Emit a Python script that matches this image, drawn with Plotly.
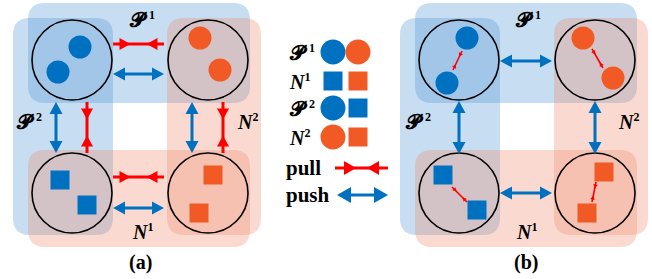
import math
import plotly.graph_objects as go

W, H = 652, 279
BLUE = "#0070C0"
ORANGE = "#F15A24"
RED = "#FF0000"
BAND_BLUE = "rgba(91,155,213,0.34)"
BAND_RED = "rgba(238,140,110,0.32)"
FONT = "Liberation Serif"

# ---------------- data ----------------
panel_names = ["(a)", "(b)"]
panel_dx = [0, 387]
node_cx = [72, 208]            # left / right column centres (panel a)
node_cy = [60, 193]            # top / bottom row centres
node_r = 40

# members (x, y) for each cell: TL, TR, BL, BR
dots_a = {
    "TL": [(80, 47), (58, 72)],
    "TR": [(200, 38), (220, 70)],
    "BL": [(60, 180), (87, 205)],
    "BR": [(213, 175), (199, 213)],
}
dots_b = {
    "TL": [(467, 38), (447, 83)],
    "TR": [(583, 38), (613, 78)],
    "BL": [(443, 175), (477, 210)],
    "BR": [(604, 172), (587, 213)],
}
cell_style = {"TL": ("circle", BLUE), "TR": ("circle", ORANGE),
              "BL": ("square", BLUE), "BR": ("square", ORANGE)}

# intra-cell pull segments in panel (b)
small_pull_b = [((453, 70), (462, 51)), ((592, 49), (603, 68)),
                ((452, 187), (467, 202)), ((596, 182), (592, 202))]

SUP = "<span style='font-size:12px'>{}</span>"
P_SYM = "𝓟\u00a0"
legend_rows = [P_SYM + "<sup>" + SUP.format(1) + "</sup>",
               "<i>N</i><sup>" + SUP.format(1) + "</sup>",
               P_SYM + "<sup>" + SUP.format(2) + "</sup>",
               "<i>N</i><sup>" + SUP.format(2) + "</sup>"]
legend_marks = [[("circle", BLUE), ("circle", ORANGE)],
                [("square", BLUE), ("square", ORANGE)],
                [("circle", BLUE), ("square", BLUE)],
                [("circle", ORANGE), ("square", ORANGE)]]
legend_y = [52, 81, 108, 137]
legend_arrows = ["pull", "push"]
legend_arrow_y = [168, 195]

group_labels = [legend_rows[0], legend_rows[2], legend_rows[3], legend_rows[1]]
group_label_pos_a = [(142, 19), (29, 121), (247, 121), (142, 231)]
group_label_pos_b = [(528, 19), (418, 121), (628, 121), (526, 231)]

fig = go.Figure()
shapes = []
annos = []


def rrect(x0, y0, x1, y1, r, fill):
    p = (f"M{x0+r},{y0} L{x1-r},{y0} Q{x1},{y0} {x1},{y0+r} L{x1},{y1-r} "
         f"Q{x1},{y1} {x1-r},{y1} L{x0+r},{y1} Q{x0},{y1} {x0},{y1-r} "
         f"L{x0},{y0+r} Q{x0},{y0} {x0+r},{y0} Z")
    return dict(type="path", path=p, xref="x", yref="y", fillcolor=fill,
                line=dict(width=0), layer="below")


def seg(a, b, color, width):
    shapes.append(dict(type="line", xref="x", yref="y", x0=a[0], y0=a[1], x1=b[0], y1=b[1],
                       line=dict(color=color, width=width)))


def head(tip, u, length, width, color):
    # filled triangle with its tip at `tip`, pointing along unit vector u
    bx, by = tip[0] - u[0] * length, tip[1] - u[1] * length
    px, py = -u[1] * width / 2, u[0] * width / 2
    p = f"M{tip[0]},{tip[1]} L{bx+px},{by+py} L{bx-px},{by-py} Z"
    shapes.append(dict(type="path", path=p, xref="x", yref="y", fillcolor=color,
                       line=dict(width=0)))


def unit(a, b):
    dx, dy = b[0] - a[0], b[1] - a[1]
    L = math.hypot(dx, dy)
    return dx / L, dy / L


def push(a, b, length=12, width=13, lw=3):
    ux, uy = unit(a, b)
    seg((a[0] + ux * length * 0.8, a[1] + uy * length * 0.8),
        (b[0] - ux * length * 0.8, b[1] - uy * length * 0.8), BLUE, lw)
    head(a, (-ux, -uy), length, width, BLUE)
    head(b, (ux, uy), length, width, BLUE)


def pull(a, b, length=11, width=12, off=6.5, lw=3):
    ux, uy = unit(a, b)
    seg(a, b, RED, lw)
    d = off + length
    head((a[0] + ux * d, a[1] + uy * d), (ux, uy), length, width, RED)
    head((b[0] - ux * d, b[1] - uy * d), (-ux, -uy), length, width, RED)


for pi, dxp in enumerate(panel_dx):
    # translucent group bands
    shapes.append(rrect(28 + dxp, 3, 250 + dxp, 103, 17, BAND_BLUE))    # P1
    shapes.append(rrect(13 + dxp, 18, 113 + dxp, 235, 17, BAND_BLUE))   # P2
    shapes.append(rrect(28 + dxp, 150, 250 + dxp, 247, 17, BAND_RED))   # N1
    shapes.append(rrect(167 + dxp, 18, 261 + dxp, 235, 17, BAND_RED))   # N2
    for cy in node_cy:
        for cx in node_cx:
            shapes.append(dict(type="circle", xref="x", yref="y",
                               x0=cx + dxp - node_r, x1=cx + dxp + node_r,
                               y0=cy - node_r, y1=cy + node_r,
                               line=dict(color="black", width=1.6)))
    if pi == 0:
        pull((113, 44), (164, 44))
        push((113, 74), (164, 74))
        pull((113, 177), (164, 177))
        push((113, 208), (164, 208))
        push((56, 102), (56, 153))
        pull((87, 102), (87, 153))
        push((192, 102), (192, 153))
        pull((223, 102), (223, 153))
    else:
        push((500, 61), (552, 61))
        push((500, 193), (552, 193))
        push((459, 101), (459, 154))
        push((595, 101), (595, 154))
        for a, b in small_pull_b:
            pull(a, b, length=4, width=4.5, off=2.5, lw=1.6)
    annos.append(dict(x=140 + dxp if pi == 0 else 526, y=262, text=f"<b>{panel_names[pi]}</b>",
                      showarrow=False, font=dict(family=FONT, size=20, color="black")))

# member dots
for dots in (dots_a, dots_b):
    for cell, pts in dots.items():
        sym, col = cell_style[cell]
        fig.add_trace(go.Scatter(x=[p[0] for p in pts], y=[p[1] for p in pts], mode="markers",
                                 marker=dict(symbol=sym, color=col, size=23 if sym == "circle" else 19,
                                             line=dict(width=0)),
                                 hoverinfo="skip", showlegend=False))

# group labels
for txt, (x, y) in zip(group_labels, group_label_pos_a):
    annos.append(dict(x=x, y=y, text=f"<b>{txt}</b>", showarrow=False,
                      font=dict(family=FONT, size=20, color="black")))
for txt, (x, y) in zip(group_labels, group_label_pos_b):
    annos.append(dict(x=x, y=y, text=f"<b>{txt}</b>", showarrow=False,
                      font=dict(family=FONT, size=20, color="black")))

# legend block
for txt, marks, y in zip(legend_rows, legend_marks, legend_y):
    annos.append(dict(x=287, y=y, text=f"<b>{txt}</b>", showarrow=False, xanchor="left",
                      font=dict(family=FONT, size=20, color="black")))
    for (sym, col), x in zip(marks, [333, 358]):
        fig.add_trace(go.Scatter(x=[x], y=[y], mode="markers",
                                 marker=dict(symbol=sym, color=col, size=25 if sym == "circle" else 19,
                                             line=dict(width=0)),
                                 hoverinfo="skip", showlegend=False))
for txt, y in zip(legend_arrows, legend_arrow_y):
    annos.append(dict(x=284, y=y, text=f"<b>{txt}</b>", showarrow=False, xanchor="left",
                      font=dict(family=FONT, size=21, color="black")))
pull((335, 168), (388, 168), length=12, width=14, off=9)
push((337, 195), (388, 195), length=14, width=16)

fig.update_layout(width=W, height=H, margin=dict(l=0, r=0, t=0, b=0),
                  paper_bgcolor="white", plot_bgcolor="white",
                  shapes=shapes, annotations=annos, showlegend=False,
                  xaxis=dict(range=[0, W], visible=False, fixedrange=True),
                  yaxis=dict(range=[H, 0], visible=False, fixedrange=True))
fig.write_html("out.html", config={"displayModeBar": False},
               post_script="document.body.style.margin='0';document.body.style.overflow='hidden';")
